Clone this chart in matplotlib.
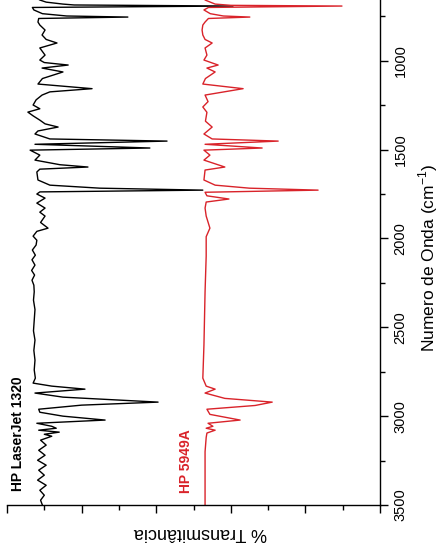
import matplotlib
matplotlib.use("Agg")
import matplotlib.pyplot as plt
from matplotlib.ticker import MultipleLocator

plt.rcParams['font.family'] = ['Liberation Sans', 'DejaVu Sans']
plt.rcParams['mathtext.fontset'] = 'custom'
plt.rcParams['mathtext.rm'] = 'Liberation Sans'

# FTIR spectra (wavenumber in cm-1, transmittance in %)
wn_black = [650, 658, 670, 681, 686, 692, 700, 714, 735, 748, 754, 762, 782,
            799, 827, 855, 880, 900, 928, 968, 996, 1010, 1024, 1041, 1063,
            1100, 1131, 1157, 1175, 1193, 1220, 1249, 1270, 1289, 1310, 1334,
            1355, 1373, 1395, 1412, 1440, 1452, 1470, 1491, 1503, 1531, 1559,
            1585, 1598, 1610, 1626, 1671, 1700, 1717, 1728, 1738, 1750, 1773,
            1801, 1829, 1852, 1874, 1910, 1942, 1960, 1987, 2010, 2037, 2065,
            2094, 2120, 2150, 2180, 2206, 2235, 2263, 2300, 2347, 2400, 2460,
            2520, 2572, 2630, 2685, 2740, 2786, 2814, 2831, 2848, 2870, 2893,
            2904, 2921, 2938, 2961, 2978, 3000, 3022, 3040, 3057, 3068, 3079,
            3090, 3102, 3113, 3135, 3163, 3192, 3220, 3248, 3276, 3304, 3332,
            3360, 3389, 3417, 3445, 3473, 3501]
t_black = [91.8, 91.2, 89.5, 85.0, 82.0, 39.4, 93.2, 92.8, 90.5, 84.0, 67.6, 91.5, 91.7,
           91.2, 89.8, 90.6, 89.5, 86.6, 91.2, 89.8, 91.2, 90.0, 83.6, 90.6, 85.0,
           90.5, 91.7, 77.2, 88.5, 90.6, 92.2, 93.0, 91.2, 94.4, 93.0, 91.2,
           89.8, 86.3, 91.7, 92.5, 88.5, 57.1, 92.5, 61.7, 93.8, 91.2, 92.5,
           85.8, 78.3, 91.2, 92.0, 91.7, 88.5, 75.1, 47.5, 91.2, 92.0, 89.8,
           92.0, 89.8, 91.2, 89.8, 91.0, 89.0, 92.0, 93.0, 92.0, 92.2, 93.2,
           92.4, 93.3, 92.5, 93.4, 92.6, 93.3, 92.8, 92.7, 92.9, 92.5, 92.7,
           92.9, 92.5, 92.8, 92.5, 92.7, 92.4, 93.0, 88.0, 79.1, 92.5, 85.0,
           75.0, 59.5, 80.0, 91.5, 91.2, 85.0, 73.7, 92.0, 88.0, 86.8, 91.5,
           86.0, 90.0, 88.0, 91.0, 89.5, 91.5, 89.8, 91.8, 89.5, 91.5, 90.0,
           91.8, 89.5, 91.2, 90.0, 91.0, 90.5]

wn_red = [650, 658, 670, 681, 688, 692, 700, 714, 735, 748, 754, 762, 782,
          799, 827, 855, 880, 900, 928, 968, 996, 1024, 1041, 1063, 1100,
          1131, 1157, 1193, 1230, 1260, 1290, 1340, 1373, 1412, 1440, 1452,
          1470, 1491, 1503, 1531, 1559, 1598, 1615, 1671, 1700, 1717, 1728,
          1740, 1760, 1778, 1795, 1829, 1874, 1942, 1990, 2100, 2300, 2600,
          2786, 2831, 2848, 2870, 2900, 2921, 2940, 2961, 2990, 3022, 3040,
          3057, 3068, 3079, 3095, 3120, 3200, 3350, 3501]
t_red = [47.0, 46.9, 45.5, 44.2, 40.0, 10.2, 46.0, 47.2, 45.5, 42.0, 34.9, 46.0, 46.9,
         47.5, 47.7, 47.5, 46.9, 45.0, 46.9, 46.4, 47.2, 43.4, 46.4, 44.2, 46.8,
         47.5, 36.7, 46.9, 46.1, 47.5, 46.4, 46.8, 45.0, 47.2, 45.0, 27.3,
         46.9, 31.6, 47.2, 45.6, 47.2, 41.6, 46.9, 47.2, 44.2, 35.0, 16.6,
         46.9, 46.4, 40.5, 46.6, 46.9, 46.6, 45.6, 46.6, 46.6, 46.9, 47.2,
         47.5, 46.6, 44.2, 46.9, 41.6, 28.9, 33.5, 46.4, 45.6, 37.5, 46.1,
         44.8, 46.6, 44.2, 46.4, 46.6, 46.9, 46.9, 46.9]

red = '#d9232a'

fig = plt.figure(figsize=(4.42, 5.51), dpi=100)
ax = fig.add_axes([7 / 442, 46 / 551, 373 / 442, 505 / 551])

ax.plot(t_black, wn_black, color='black', lw=1.0)
ax.plot(t_red, wn_red, color=red, lw=1.0)

ax.set_xlim(100, 0)
ax.set_ylim(3500, 658)

for s in ['top', 'left']:
    ax.spines[s].set_visible(False)
for s in ['bottom', 'right']:
    ax.spines[s].set_linewidth(1.0)

ax.xaxis.set_major_locator(MultipleLocator(20))
ax.xaxis.set_minor_locator(MultipleLocator(10))
ax.yaxis.set_major_locator(MultipleLocator(500))
ax.yaxis.set_minor_locator(MultipleLocator(250))
ax.yaxis.tick_right()
ax.tick_params(axis='x', which='both', direction='out', labelbottom=False)
ax.tick_params(axis='both', which='major', length=5.8, width=1.0)
ax.tick_params(axis='both', which='minor', length=3.6, width=1.0)
ax.tick_params(axis='y', which='both', direction='out', left=False, right=True,
               labelright=True, labelleft=False, labelsize=10.5, pad=4)
for lab in ax.get_yticklabels():
    lab.set_rotation(90)
    lab.set_va('center')

fig.text(428 / 442, 1 - 258 / 551, 'Numero de Onda (cm$^{-1}$)', rotation=90,
         ha='center', va='center', fontsize=12.5)
fig.text(200 / 442, 1 - 533 / 551, '% Transmitância', rotation=180,
         ha='center', va='center', fontsize=13)

ax.text(0.0295, 0.1406, 'HP LaserJet 1320', transform=ax.transAxes, rotation=90,
        ha='center', va='center', fontsize=10, fontweight='bold', color='black')
ax.text(0.48, 0.087, 'HP 5949A', transform=ax.transAxes, rotation=90,
        ha='center', va='center', fontsize=10, fontweight='bold', color=red)

fig.savefig('out.png', dpi=100)
